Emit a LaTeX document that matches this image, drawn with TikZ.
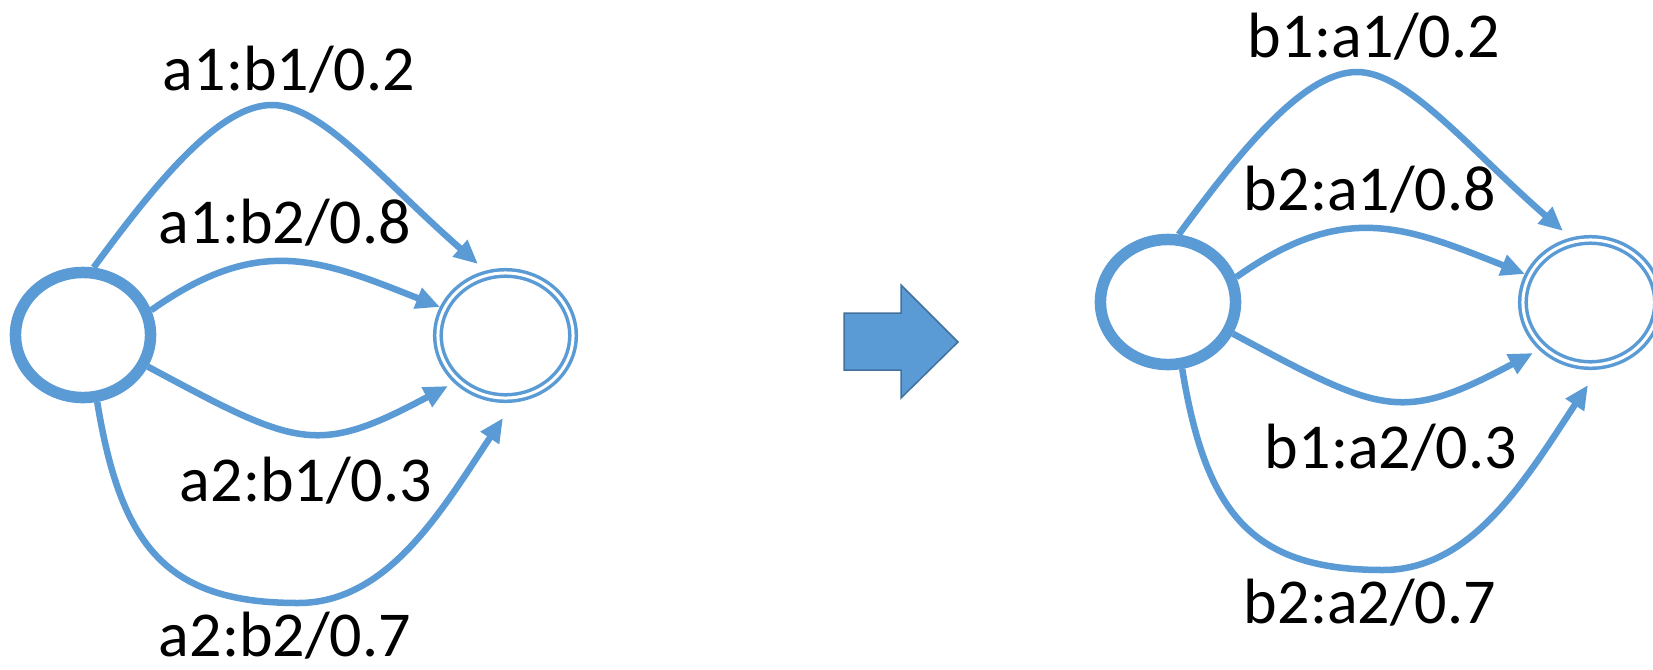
\documentclass[tikz,border=0pt]{standalone}
\usepackage{fontspec}
\setmainfont{Carlito}
\usetikzlibrary{arrows.meta,shapes.geometric}
\definecolor{edgeblue}{HTML}{5B9BD5}
\definecolor{arrowborder}{HTML}{41719C}
\tikzset{
  startstate/.style={draw=edgeblue, line width=0.115cm, ellipse, minimum width=1.35cm, minimum height=1.25cm, inner sep=0pt, outer sep=0.057cm},
  finalstate/.style={draw=edgeblue, line width=0.035cm, double=white, double distance=0.03cm, ellipse, minimum width=1.35cm, minimum height=1.25cm, inner sep=0pt},
  trans/.style={draw=edgeblue, line width=0.065cm, -{Triangle[length=0.24cm,width=0.21cm]}},
  lbl/.style={font=\fontsize{18.2pt}{22pt}\selectfont, inner sep=0pt, anchor=base, text=black},
  blockarrow/.style={fill=edgeblue, draw=arrowborder, line width=0.015cm, line join=miter}
}
\newcommand\fsadiagram[5]{%
  \node[startstate] (#1s) at (83,335) {};
  \node[finalstate] (#1f) at (505.5,335.5) {};
  \path (#1f) ++(-27.5,-71.5) coordinate (#1t1);
  \path (#1f) ++(-65.5,-28.5) coordinate (#1t2);
  \path (#1f) ++(-57.5,50.5) coordinate (#1t3);
  \path (#1f) ++(-2.5,82.5) coordinate (#1t4);
  \draw[trans] (#1s.81.5) .. controls (163,173) and (222,105) .. (272,105)
                          .. controls (322,105) and (381,179) .. (#1t1);
  \draw[trans] (#1s.20.5) .. controls (259,234) and (319,259) .. (#1t2);
  \draw[trans] (#1s.-26) .. controls (297.5,447) and (316,456.5) .. (#1t3);
  \draw[trans] (#1s.-78) .. controls (121,548) and (168,603) .. (298,603)
                         .. controls (388,603) and (442,510) .. (#1t4);
  \node[lbl] (#1l1) at (289,90) {#2};
  \node[lbl] (#1l2) at (285,243) {#3};
  \node[lbl] (#1l3) at (306,501) {#4};
  \node[lbl] (#1l4) at (285,656) {#5};
}
\begin{document}
\begin{tikzpicture}[x=0.01cm, y=-0.01cm]
  \useasboundingbox (0,0) rectangle (1653,669);
  \fsadiagram{L}{a1:b1/0.2}{a1:b2/0.8}{a2:b1/0.3}{a2:b2/0.7}
  \draw[blockarrow] (844,313) -- (901,313) -- (901,285) -- (958,342) -- (901,398) -- (901,370) -- (844,370) -- cycle;
  \begin{scope}[shift={(1085,-33)}]
    \fsadiagram{R}{b1:a1/0.2}{b2:a1/0.8}{b1:a2/0.3}{b2:a2/0.7}
  \end{scope}
\end{tikzpicture}
\end{document}
